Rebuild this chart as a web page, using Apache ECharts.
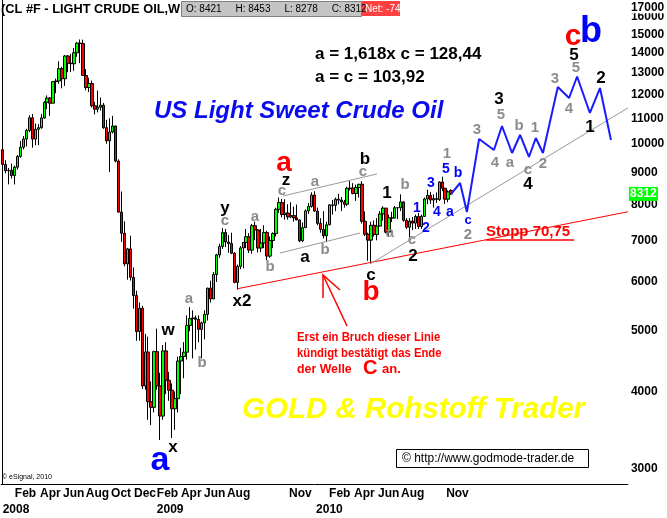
<!DOCTYPE html>
<html><head><meta charset="utf-8">
<script src="https://cdn.jsdelivr.net/npm/echarts@6/dist/echarts.min.js"></script>
<style>html,body{margin:0;padding:0;background:#fff;}#c{width:667px;height:518px;}</style>
</head><body><div id="c"></div>
<script>
// ---------- DATA ----------
const firstWeek = '2008-01-11';   // weekly candles, one per week
const openP  = [9790,9269,9057,9071,8896,9177,9550,9881,10184,10515,11021,10184,10562,10623,11014,11669,11852,11632,12596,12629,13219,12735,13854,13486,13462,14021,14529,14508,12888,12326,12510,11520,11377,11459,11546,10623,10118,10455,10689,9388,7770,7185,6415,6781,6104,5704,4993,5443,4081,4628,3850,3771,4634,4083,3651,4647,4168,4017,3751,3894,4476,4552,4625,5106,5238,5251,5224,5033,5155,5320,5863,5634,6167,6631,6844,7204,6955,6916,6673,5989,6356,6805,6945,7093,6751,7389,7274,6802,6929,7204,6602,6995,7177,7853,8050,7700,7743,7635,7672,7605,7547,6987,7336,7805,7936,8275,7800,7454,7289,7119,7413,7981,7966,8150,8124,8068,8000,8487,8492,8324,8512,8615,7511,7161,7004,7400,7151,7378,7718,7886,7214,7609,7601,7898,7895,8070,7539,7346,7517,7460,7645,7366,7649,8158,8266,8125,8169,8143,8685,8488,8151,8421];
const highP  = [9850,9420,9150,9300,9230,9600,10110,10300,10580,11120,11175,10790,10762,11180,11721,11970,11900,12628,12740,13582,13310,13899,13900,13960,14266,14585,14727,14720,13200,12780,12650,11690,12187,11879,11641,10935,11000,11100,10700,9450,8387,7510,6806,7120,6330,5810,5560,5490,4950,4900,4150,4653,5047,4285,4750,4800,4300,4120,4000,4550,4700,4800,5300,5466,5400,5300,5300,5180,5400,5873,6027,6227,6658,6910,7323,7300,7138,7200,6700,6400,6850,6950,7300,7190,7438,7500,7300,7300,7400,7250,7100,7210,7898,8200,8160,8151,8000,8060,7930,7990,7560,7480,7850,8036,8360,8395,7900,7600,7797,7500,8000,8130,8200,8316,8220,8130,8540,8715,8650,8600,8600,8715,7790,7200,7500,7532,7600,7800,7940,7890,7700,7780,7950,7920,8300,8080,7600,7600,7630,7700,7750,7700,8200,8443,8370,8300,8360,8710,8863,8500,8423,8453];
const lowP   = [9220,8970,8611,8800,8610,9100,9500,9800,9910,10450,9865,9950,9955,10580,10980,11380,11100,11630,12070,12500,12290,12400,13045,13060,13115,13811,13490,12870,12200,12120,11450,11160,11240,11320,10576,10011,9013,10400,9340,7757,6958,6357,6051,6030,5435,4824,4825,4036,4025,3600,3530,3700,4025,3340,3600,3960,3863,3365,3470,3700,3960,4200,4500,5000,4520,4670,4800,4520,4850,5200,5558,5630,6000,6560,6780,6826,6684,6650,5970,5832,6290,6310,6800,6676,6660,7000,6693,6700,6800,6500,6560,6800,7100,7750,7620,7560,7560,7600,7500,7570,6950,6950,7320,7720,7900,7780,7400,7200,7050,6950,7400,7700,7800,8000,7800,7900,7950,8420,8300,8100,8200,7450,7110,6488,6424,7100,7000,7370,7530,7180,7110,7490,7590,7570,7800,7500,7300,7076,7270,7300,7300,7300,7640,8000,8010,7900,8040,8100,8400,8006,8060,8278];
const closeP = [9269,9057,9071,8896,9177,9550,9881,10184,10515,11021,10184,10562,10623,11014,11669,11852,11632,12596,12629,13219,12735,13854,13486,13462,14021,14529,14508,12888,12326,12510,11520,11377,11459,11546,10623,10118,10455,10689,9388,7770,7185,6415,6781,6104,5704,4993,5443,4081,4628,3850,3771,4634,4083,3651,4647,4168,4017,3751,3894,4476,4552,4625,5106,5238,5251,5224,5033,5155,5320,5863,5634,6167,6631,6844,7204,6955,6916,6673,5989,6356,6805,6945,7093,6751,7389,7274,6802,6929,7204,6602,6995,7177,7853,8050,7700,7743,7635,7672,7605,7547,6987,7336,7805,7936,8275,7800,7454,7289,7119,7413,7981,7966,8150,8124,8068,8000,8487,8492,8324,8512,8615,7511,7161,7004,7400,7151,7378,7718,7886,7214,7609,7601,7898,7895,8070,7539,7346,7517,7460,7645,7366,7649,8158,8266,8125,8169,8143,8685,8488,8151,8376,8312];

const priceTicks  = [3000,4000,5000,6000,7000,8000,9000,10000,11000,12000,13000,14000,15000,16000];
const topTick     = [17000];
const monthLabels = ['Feb','Apr','Jun','Aug','Oct','Dec','Feb','Apr','Jun','Aug','Nov','Feb','Apr','Jun','Aug','Nov'];
const monthTicks  = [4.1,12.6,20.3,28.0,36.5,44.2,51.9,60.0,67.8,75.5,96.4,109.9,118.3,126.4,134.1,149.3];
const yearLabels  = ['2008','2009','2010'];
const yearTicks   = [0,51.9,105.5];

// projected wave path (week index, price)
const projWeek  = [151,154,156.3,160.4,165.4,168.1,171.5,174.2,177.2,179.5,181.9,186.9,190.7,193.4,197.7,201.1,204.8];
const projPrice = [8312,8655,7771,10187,9780,10689,9672,10339,9530,10225,9672,12350,11857,12840,11217,12304,10149];
const supportLine  = [[79,5850],[210.5,7780]];
const trendLine    = [[124,6424],[210.5,11430]];
const channelUpper = [[94.4,8249],[126,8949]];
const channelLower = [[93.4,6677],[120.3,7191]];
const lastPrice = 8312;

// ---------- CHART ----------
const FF = "'Liberation Sans', Arial, Helvetica, sans-serif";
const candles = openP.map((o,i)=>[i,o,closeP[i],lowP[i],highP[i]]);
const chart = echarts.init(document.getElementById('c'), null, {renderer:'canvas'});

const labelFor = (ticks, labels) => v => {
  let best = 0, d = 1e9;
  ticks.forEach((t,i)=>{ const dd=Math.abs(t-v); if(dd<d){d=dd;best=i;} });
  return labels[best];
};

// annotation texts (pixel layout)
const BLK='#000', GRY='#8c8c8c', BLU='#0000ff', RED='#ff0000';
const waveText = [
 ['x2',242,301,BLK,17],['w',168,330,BLK,17],['x',173,447,BLK,17],['y',225,208,BLK,17],['z',286,180,BLK,17],
 ['b',365,159,BLK,17],['a',305,257,BLK,17],['1',387,193,BLK,17],['c',371,275,BLK,17],['2',413,256,BLK,17],
 ['3',499,99,BLK,17],['4',528,184,BLK,17],['5',574,55,BLK,17],['2',601,78,BLK,17],['1',590,127,BLK,17],
 ['a',189,299,GRY,15],['b',202,363,GRY,15],['c',225,221,GRY,15],['a',255,217,GRY,15],['b',270,267,GRY,15],
 ['c',282,191,GRY,15],['a',315,182,GRY,15],['b',325,250,GRY,15],['c',363,172,GRY,15],['b',405,185,GRY,15],
 ['a',390,233,GRY,15],['c',412,240,GRY,15],['1',447,154,GRY,15],['2',468,235,GRY,15],['3',477,130,GRY,15],
 ['5',501,115,GRY,15],['4',495,163,GRY,15],['a',510,163,GRY,15],['b',519,126,GRY,15],['c',528,170,GRY,15],
 ['1',535,128,GRY,15],['2',543,164,GRY,15],['3',555,79,GRY,15],['4',569,109,GRY,15],['5',576,68,GRY,15],
 ['1',417,208,BLU,14],['2',426,228,BLU,14],['3',431,183,BLU,14],['4',437,212,BLU,14],['5',446,169,BLU,14],
 ['b',458,173,BLU,14],['a',450,212,BLU,14],['c',468,220,BLU,13],
 ['a',284,163,RED,28],['b',371,292,RED,28],['a',160,461,BLU,34],['c',573,37,RED,30],['b',591,32,BLU,36]
];
function txt(t,x,y,color,size,opt){
  opt = opt||{};
  const align = opt.align||'center';
  const el = {type:'text', z:100, x:x, y:y, style:Object.assign({
    text:t, fill:color, font:(opt.italic?'italic ':'')+'bold '+size+'px '+FF,
    align:align, verticalAlign:'middle', textAlign:align, textVerticalAlign:'middle'
  }, opt.style||{})};
  if (opt.scaleX) el.scaleX = opt.scaleX;
  return el;
}
const graphics = waveText.map(w=>txt(w[0],w[1],w[2],w[3],w[4]));
graphics.push(
  txt('(CL #F - LIGHT CRUDE OIL,W',1,9,BLK,12.8,{align:'left'}),
  {type:'rect', z:99, shape:{x:181.5,y:1.5,width:180,height:15}, style:{fill:'#c4c4c4',stroke:'#808080',lineWidth:1}},
  txt('O: 8421     H: 8453     L: 8278     C: 8312',186,9,'#000',10,{align:'left',style:{font:'10px '+FF}}),
  {type:'rect', z:99, shape:{x:362,y:1,width:38,height:15}, style:{fill:'#ff4040'}},
  txt('Net: -74',365,9,'#fff',10,{align:'left',style:{font:'10px '+FF}}),
  txt('a = 1,618x c = 128,44',315,54,BLK,17,{align:'left'}),
  txt('a = c = 103,92',315,77,BLK,17,{align:'left'}),
  txt('US Light Sweet Crude Oil',154,111,'#0a0aee',24,{align:'left',italic:true,
     style:{shadowColor:'rgba(70,70,70,0.9)',shadowBlur:6,shadowOffsetX:-4,shadowOffsetY:4}}),
  txt('GOLD & Rohstoff Trader',242,410,'#ffff00',29.5,{align:'left',italic:true,
     style:{shadowColor:'rgba(70,70,70,0.9)',shadowBlur:6,shadowOffsetX:-4,shadowOffsetY:4}}),
  txt('Erst ein Bruch dieser Linie',297,337,RED,13,{align:'left',scaleX:0.87}),
  txt('kündigt bestätigt das Ende',297,353,RED,13,{align:'left',scaleX:0.87}),
  txt('der Welle',297,369,RED,13,{align:'left',scaleX:0.95}),
  txt('C',363,368,RED,20,{align:'left'}),
  txt('an.',382,369,RED,13,{align:'left'}),
  txt('Stopp 70,75',486,232,RED,15,{align:'left'}),
  {type:'line', z:100, shape:{x1:486,y1:240,x2:574,y2:240}, style:{stroke:RED,lineWidth:1.5}},
  {type:'polyline', z:100, shape:{points:[[347,326],[323,275]]}, style:{stroke:RED,lineWidth:1.5,fill:null}},
  {type:'polyline', z:100, shape:{points:[[323,298],[323,275],[340,290]]}, style:{stroke:RED,lineWidth:1.5,fill:null}},
  {type:'rect', z:99, shape:{x:396.5,y:449.5,width:192,height:18}, style:{fill:'#fff',stroke:'#000',lineWidth:1}},
  txt('© http://www.godmode-trader.de',402,459,'#000',12,{align:'left',style:{font:'12px '+FF}}),
  txt('© eSignal, 2010',2,477,'#000',7,{align:'left',style:{font:'7px '+FF}})
);

const lineSeries = (data,color,width,z)=>({type:'line', data:data, showSymbol:false, symbol:'none', silent:true,
  lineStyle:{color:color,width:width}, z:z||5, animation:false});

const yLabelStyle = {margin:3, color:'#000', fontWeight:'bold', fontSize:12, fontFamily:FF};
chart.setOption({
  animation:false,
  backgroundColor:'#fff',
  grid:{left:1.2, right:39.1, top:0, height:484, containLabel:false, outerBoundsMode:'none'},
  xAxis:[{
    type:'value', min:-0.5, max:210.5, position:'bottom',
    axisLine:{show:true,lineStyle:{color:'#000',width:1}}, axisTick:{show:false}, splitLine:{show:false},
    axisLabel:{customValues:monthTicks, formatter:labelFor(monthTicks,monthLabels), align:'left', margin:4,
      color:'#000', fontWeight:'bold', fontSize:12, fontFamily:FF}
  },{
    type:'value', min:-0.5, max:210.5, position:'bottom', offset:16,
    axisLine:{show:false}, axisTick:{show:false}, splitLine:{show:false},
    axisLabel:{customValues:yearTicks, formatter:labelFor(yearTicks,yearLabels), align:'left', margin:4,
      color:'#000', fontWeight:'bold', fontSize:12, fontFamily:FF}
  }],
  yAxis:[{
    type:'log', logBase:10, min:2838.6, max:17046, position:'right',
    axisLine:{show:true,lineStyle:{color:'#000',width:1}}, axisTick:{show:false}, splitLine:{show:false},
    axisLabel:Object.assign({customValues:priceTicks, formatter:v=>String(Math.round(v))}, yLabelStyle)
  },{
    type:'log', logBase:10, min:2838.6, max:17046, position:'right',
    axisLine:{show:false}, axisTick:{show:false}, splitLine:{show:false},
    axisLabel:Object.assign({customValues:topTick, formatter:v=>'{t|'+Math.round(v)+'}',
      rich:{t:{padding:[13,0,0,0],backgroundColor:'#fff',fontWeight:'bold',fontSize:12,fontFamily:FF,color:'#000'}}}, yLabelStyle)
  }],
  series:[
    {type:'candlestick', data:candles, encode:{x:0,y:[1,2,3,4]}, barWidth:3, z:3,
     itemStyle:{color:'#00ff00', color0:'#ff0000', borderColor:'#000', borderColor0:'#000', borderWidth:1},
     markPoint:{silent:true, animation:false,
       data:[{coord:[210.5,lastPrice], value:lastPrice}],
       symbol:'rect', symbolSize:[29,14], symbolOffset:[15.5,0],
       itemStyle:{color:'#00ff00', borderWidth:0},
       label:{show:true, position:'inside', formatter:String(lastPrice), color:'#fff',
         fontWeight:'bold', fontSize:12, fontFamily:FF}}},
    lineSeries(supportLine,'#ff0000',1,6),
    lineSeries(trendLine,'#999999',1,6),
    lineSeries(channelUpper,'#999999',1,6),
    lineSeries(channelLower,'#999999',1,6),
    lineSeries(projWeek.map((w,i)=>[w,projPrice[i]]),'#1a1aff',2,7)
  ],
  graphic:graphics
});
</script>
</body></html>
